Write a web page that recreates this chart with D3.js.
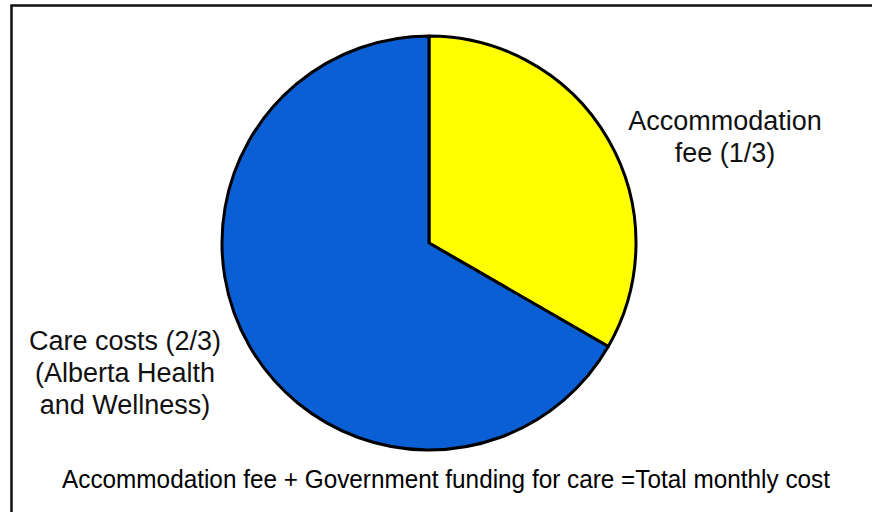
<!DOCTYPE html>
<html>
<head>
<meta charset="utf-8">
<script src="https://cdn.jsdelivr.net/npm/d3@7"></script>
<style>
  html, body { margin: 0; padding: 0; background: #fff; }
  svg { display: block; }
</style>
</head>
<body>
<svg id="chart" width="872" height="512"></svg>
<script>
// ---- data ----
const categories = ["Accommodation fee", "Care costs"];
const shares = [1, 2];            // 1/3 and 2/3 of total monthly cost
const labelLines = [
  ["Accommodation", "fee (1/3)"],
  ["Care costs (2/3)", "(Alberta Health", "and Wellness)"]
];
const caption = "Accommodation fee + Government funding for care =Total monthly cost";

// ---- drawing ----
const svg = d3.select("#chart");
const W = 872, H = 512;

svg.append("rect").attr("x", 0).attr("y", 0).attr("width", W).attr("height", H).attr("fill", "#fff");

// frame (right / bottom edges fall outside the picture)
svg.append("rect")
  .attr("x", 11.5).attr("y", 5.5)
  .attr("width", 900).attr("height", 600)
  .attr("fill", "none").attr("stroke", "#111").attr("stroke-width", 2.5);

const color = d3.scaleOrdinal().domain(categories).range(["#ffff00", "#0a5fd4"]);

const cx = 429, cy = 243, r = 207;
const pie = d3.pie().sort(null).value(d => d.v);
const arcs = pie(categories.map((c, i) => ({ c, v: shares[i] })));
const arc = d3.arc().innerRadius(0).outerRadius(r);

const g = svg.append("g").attr("transform", `translate(${cx},${cy})`);
g.selectAll("path").data(arcs).join("path")
  .attr("d", arc)
  .attr("fill", d => color(d.data.c))
  .attr("stroke", "#000")
  .attr("stroke-width", 3)
  .attr("stroke-linejoin", "round");

// labels
const labelPos = [
  { x: 725, y: 130 },
  { x: 125, y: 350 }
];
const lineH = 32;
labelLines.forEach((lines, i) => {
  const t = svg.append("text")
    .attr("x", labelPos[i].x).attr("y", labelPos[i].y)
    .attr("text-anchor", "middle")
    .attr("font-family", "'Liberation Sans', Arial, sans-serif")
    .attr("font-size", 27)
    .attr("fill", "#111");
  lines.forEach((ln, j) => {
    t.append("tspan").attr("x", labelPos[i].x).attr("dy", j === 0 ? 0 : lineH).text(ln);
  });
});

svg.append("text")
  .attr("x", 446).attr("y", 488)
  .attr("text-anchor", "middle")
  .attr("font-family", "'Liberation Sans', Arial, sans-serif")
  .attr("font-size", 25)
  .attr("textLength", 768)
  .attr("lengthAdjust", "spacingAndGlyphs")
  .attr("fill", "#000")
  .text(caption);
</script>
</body>
</html>
